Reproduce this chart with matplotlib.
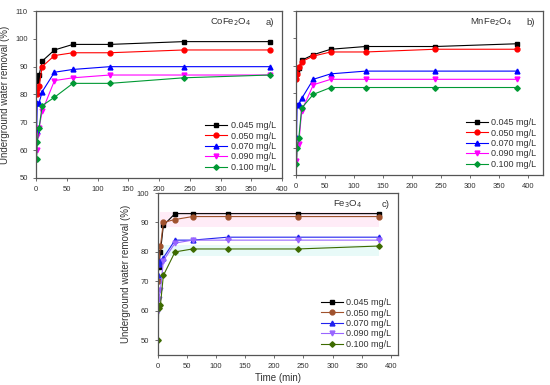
import numpy as np
import matplotlib.pyplot as plt

# sampling times (min)
time = [1, 2, 5, 10, 30, 60, 120, 240, 380]
labels = ["0.045 mg/L", "0.050 mg/L", "0.070 mg/L", "0.090 mg/L", "0.100 mg/L"]

# a) CoFe2O4
cofe_045 = [85, 86, 87, 92, 96, 98, 98, 99, 99]
cofe_050 = [80, 82, 83, 90, 94, 95, 95, 96, 96]
cofe_070 = [67, 77, 77, 81, 88, 89, 90, 90, 90]
cofe_090 = [60, 65, 68, 74, 85, 86, 87, 87, 87]
cofe_100 = [57, 63, 68, 76, 79, 84, 84, 86, 87]

# b) MnFe2O4
mnfe_045 = [87, 88, 89, 92, 94, 96, 97, 97, 98]
mnfe_050 = [85, 87, 89.5, 91.5, 93.5, 95, 95, 96, 96]
mnfe_070 = [64, 75.5, 76, 78, 85, 87, 88, 88, 88]
mnfe_090 = [55, 60, 61.5, 73.5, 83, 85, 85, 85, 85]
mnfe_100 = [54, 60, 63.5, 74.5, 79.5, 82, 82, 82, 82]

# c) Fe3O4
fe_045 = [70, 75, 80, 89, 93, 93, 93, 93, 93]
fe_050 = [70, 76, 82, 90, 91, 92, 92, 92, 92]
fe_070 = [72, 76, 77, 78, 84, 84, 85, 85, 85]
fe_090 = [60, 64, 67, 77, 83, 84, 84, 84, 84]
fe_100 = [50, 61, 62, 72, 80, 81, 81, 81, 82]

markers = ["s", "o", "^", "v", "D"]
colors_ab = ["#000000", "#ff0000", "#0000ff", "#ff00ff", "#009933"]
colors_c = ["#000000", "#a0522d", "#2222ee", "#9966ff", "#3d6b00"]

plt.rcParams['font.family'] = ['Liberation Sans', 'DejaVu Sans']
TXT = "#333333"


def style_axes(ax, xlim, ylim, yticks, show_ylabels=True):
    ax.set_xlim(*xlim)
    ax.set_ylim(*ylim)
    ax.set_xticks(range(0, 401, 50))
    ax.set_yticks(yticks)
    if not show_ylabels:
        ax.set_yticklabels([])
    ax.tick_params(labelsize=5.5, length=2.5, width=0.6, colors="#555555", labelcolor=TXT)
    for s in ax.spines.values():
        s.set_color("#555555")
        s.set_linewidth(0.9)


def draw_panel(ax, series, colors, title, tag):
    for vals, c, m, lab in zip(series, colors, markers, labels):
        ax.plot(time, vals, color=c, marker=m, ms=3.5 if m != "D" else 2.8,
                lw=0.8, label=lab, mec=c)
    leg = ax.legend(loc="lower right", frameon=False, fontsize=6.5, handlelength=2.4,
                    labelspacing=0.15, borderaxespad=0.3, handletextpad=0.4)
    for t in leg.get_texts():
        t.set_color(TXT)
    ax.text(0.79, 0.93, title, transform=ax.transAxes, fontsize=6.8, ha="center",
            va="center", color=TXT)
    ax.text(0.95, 0.93, tag, transform=ax.transAxes, fontsize=6.8, ha="center",
            va="center", color=TXT)


fig = plt.figure(figsize=(5.5, 3.85), dpi=100)
ax_a = fig.add_axes([0.0655, 0.5377, 0.4473, 0.4337])
ax_b = fig.add_axes([0.538, 0.5455, 0.449, 0.426])
ax_c = fig.add_axes([0.2864, 0.0779, 0.437, 0.4208])

draw_panel(ax_a, [cofe_045, cofe_050, cofe_070, cofe_090, cofe_100], colors_ab,
           "CoFe$_2$O$_4$", "a)")
style_axes(ax_a, (0, 400), (50, 110), range(50, 111, 10))
ax_a.set_ylabel("Underground water removal (%)", fontsize=7, color=TXT, labelpad=4)

draw_panel(ax_b, [mnfe_045, mnfe_050, mnfe_070, mnfe_090, mnfe_100], colors_ab,
           "MnFe$_2$O$_4$", "b)")
style_axes(ax_b, (0, 425), (50, 110), range(50, 111, 10), show_ylabels=False)

# faint shaded bands seen in panel c
ax_c.fill_between(time[2:], [88.5] * 7, [93.5] * 7, color="#ffd6ee", alpha=0.45, lw=0)
ax_c.fill_between(time[2:], [78.5] * 7, [82.5] * 7, color="#ccf5f0", alpha=0.45, lw=0)
draw_panel(ax_c, [fe_045, fe_050, fe_070, fe_090, fe_100], colors_c,
           "Fe$_3$O$_4$", "c)")
style_axes(ax_c, (0, 412), (45, 100), range(50, 101, 10))
ax_c.set_ylabel("Underground water removal (%)", fontsize=7, color=TXT, labelpad=4)
ax_c.set_xlabel("Time (min)", fontsize=7, color=TXT, labelpad=2)

fig.savefig("out.png", dpi=100)
